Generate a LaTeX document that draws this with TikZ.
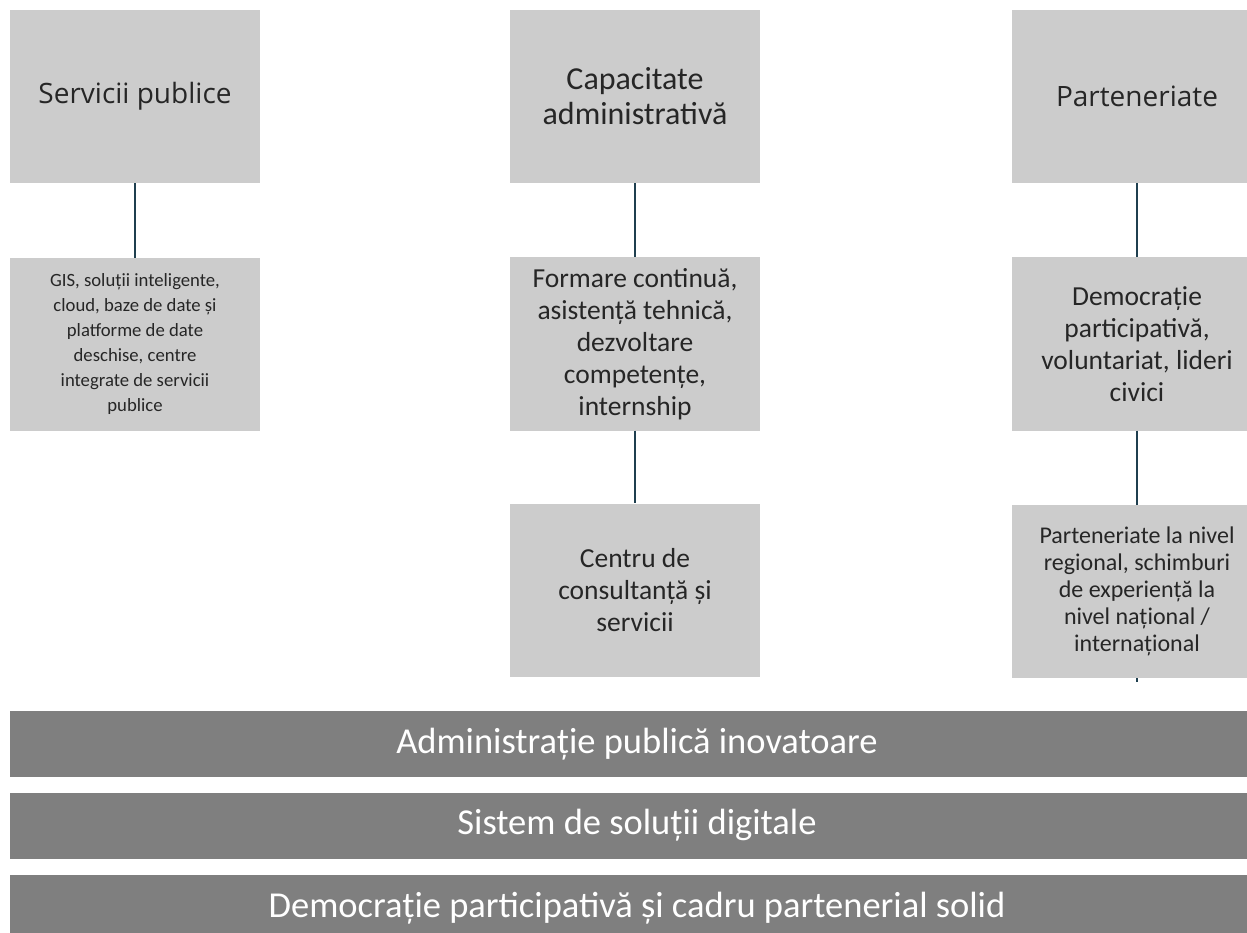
\documentclass[tikz,border=0pt]{standalone}
\usepackage{fontspec}
\setmainfont{Carlito}
\newfontfamily\headfont{Open Sans}
\usetikzlibrary{positioning}
\definecolor{boxgray}{HTML}{CCCCCC}
\definecolor{bargray}{HTML}{7F7F7F}
\definecolor{inkgray}{HTML}{262626}
\definecolor{linkcol}{HTML}{1F3F4F}
\tikzset{
  headbox/.style={fill=boxgray, inner sep=0pt, minimum width=250pt, minimum height=173pt,
    align=center, text=inkgray, font=\headfont\fontsize{28}{34}\selectfont},
  midbox/.style={fill=boxgray, inner sep=0pt, minimum width=250pt, minimum height=173pt,
    align=center, text=inkgray, font=\fontsize{27.5}{32}\selectfont},
  smallbox/.style={midbox, font=\fontsize{18.7}{25}\selectfont},
  bar/.style={fill=bargray, inner sep=0pt, minimum width=1254pt, minimum height=66pt,
    text=white, font=\fontsize{36.5}{40}\selectfont},
  link/.style={draw=linkcol, line width=1.3pt}
}

\begin{document}
\begin{tikzpicture}[x=1pt, y=-1pt]
  \useasboundingbox (0,0) rectangle (1247,933);
  \clip (0,0) rectangle (1247,933);
  % ------------------------------------------------------------ column 1
  \node[headbox] (serv) at (135,96.5) {Servicii publice};
  \node[smallbox] (gis) at (135,344.5) {GIS, soluții inteligente,\\ cloud, baze de date și\\ platforme de date\\ deschise, centre\\ integrate de servicii\\ publice};
  \draw[link] (serv) -- (gis);
  % ------------------------------------------------------------ column 2
  \node[midbox, font=\fontsize{32}{35}\selectfont] (capac) at (635,96.5) {Capacitate\\ administrativă};
  \node[midbox] (formare) at (635,344) {Formare continuă,\\ asistență tehnică,\\ dezvoltare\\ competențe,\\ internship};
  \node[midbox] (centru) at (635,590) {Centru de\\ consultanță și\\ servicii};
  \draw[link] (capac) -- (formare);
  \draw[link] (formare) -- (centru);
  % ------------------------------------------------------------ column 3
  \node[headbox] (parten) at (1137,96.5) {Parteneriate};
  \node[midbox] (democ) at (1137,344) {Democrație\\ participativă,\\ voluntariat, lideri\\ civici};
  \node[smallbox, font=\fontsize{24}{27}\selectfont] (regional) at (1137,591.5) {Parteneriate la nivel\\ regional, schimburi\\ de experiență la\\ nivel național /\\ internațional};
  \coordinate (stub) at (1137,682);
  \draw[link] (parten) -- (democ);
  \draw[link] (democ) -- (regional);
  \draw[link] (regional) -- (stub);
  % ------------------------------------------------------------ base bars
  \node[bar] (inov) at (637,744) {Administrație publică inovatoare};
  \node[bar] (digit) at (637,825.5) {Sistem de soluții digitale};
  \node[bar] (cadru) at (637,908) {Democrație participativă și cadru partenerial solid};
\end{tikzpicture}
\end{document}
